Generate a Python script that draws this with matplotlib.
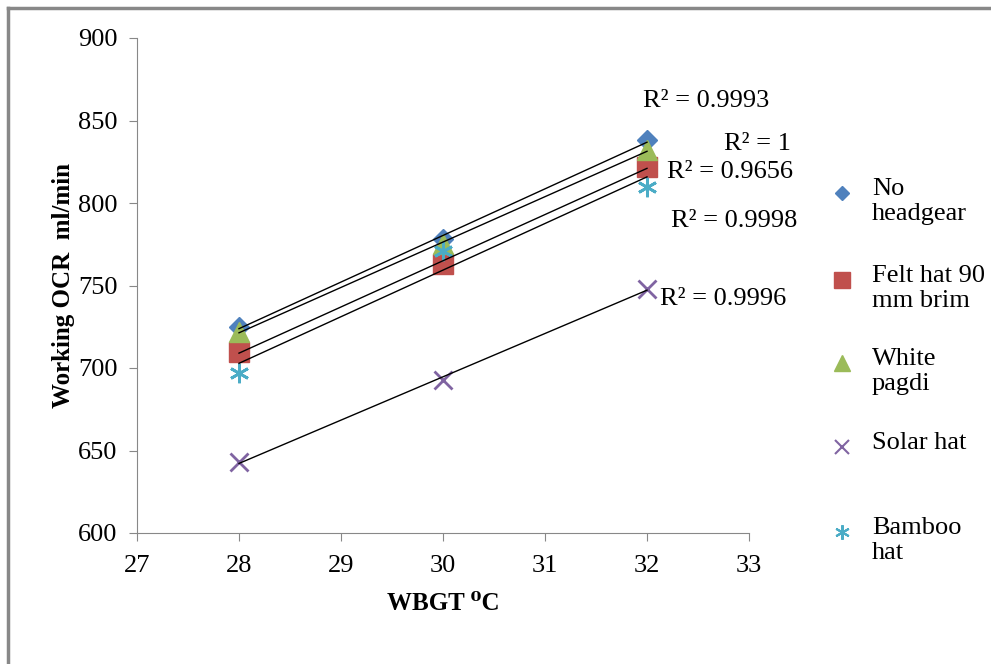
import numpy as np
import matplotlib
matplotlib.use("Agg")
import matplotlib.pyplot as plt
from matplotlib.lines import Line2D

plt.rcParams["font.family"] = ["Liberation Serif", "DejaVu Serif"]

wbgt = [28, 30, 32]
no_headgear = [725, 778, 838]
felt_hat = [710, 763, 822]
white_pagdi = [722, 775, 832]
solar_hat = [643, 693, 748]
bamboo_hat = [697, 771, 810]

labels = ["No\nheadgear", "Felt hat 90\nmm brim", "White\npagdi", "Solar hat", "Bamboo\nhat"]
colors = ["#4f81bd", "#c0504d", "#9bbb59", "#8064a2", "#4bacc6"]
markers = ["D", "s", "^", "x", (6, 2, 0)]
sizes = [10, 15, 15, 13, 14]

r2_texts = ["R\u00b2 = 0.9993", "R\u00b2 = 1", "R\u00b2 = 0.9656", "R\u00b2 = 0.9998", "R\u00b2 = 0.9996"]
r2_x = [32.58, 33.08, 32.81, 32.85, 32.75]
r2_y = [862, 836, 819, 789, 742]

series = [no_headgear, felt_hat, white_pagdi, solar_hat, bamboo_hat]
FS = 19

W, H = 991, 664
fig = plt.figure(figsize=(W / 100, H / 100), dpi=100)
ax = fig.add_axes([137 / W, 1 - 533 / H, (749 - 137) / W, (533 - 38) / H])

x = np.array(wbgt, dtype=float)
for ys, c, m, s in zip(series, colors, markers, sizes):
    mew = 2 if m == "x" or isinstance(m, tuple) else 1
    ax.plot(x, ys, linestyle="none", marker=m, color=c, markersize=s,
            markeredgewidth=mew, zorder=3)
    k, b = np.polyfit(x, ys, 1)
    ax.plot([28, 32], [k * 28 + b, k * 32 + b], color="black", lw=1, zorder=4)

for t, tx, ty in zip(r2_texts, r2_x, r2_y):
    ax.text(tx, ty, t, fontsize=FS, ha="center", va="center", clip_on=False)

ax.set_xlim(27, 33)
ax.set_ylim(600, 900)
ax.set_xticks(range(27, 34))
ax.set_yticks(range(600, 901, 50))
for sp in ["top", "right"]:
    ax.spines[sp].set_visible(False)
for sp in ["left", "bottom"]:
    ax.spines[sp].set_color("#888888")
ax.tick_params(colors="#888888", labelcolor="black", labelsize=FS, length=6,
               direction="out")
ax.tick_params(axis="y", pad=8)
ax.tick_params(axis="x", pad=10)
ax.set_xlabel("WBGT \u2070C", fontsize=18, fontweight="bold", labelpad=11)
ax.set_ylabel("Working OCR  ml/min", fontsize=18, fontweight="bold", labelpad=2)

# legend, drawn by hand to match the spreadsheet layout
leg_y = [193, 280, 363, 447, 532]
for lab, c, m, s, py in zip(labels, colors, markers, sizes, leg_y):
    mew = 1.5 if m == "x" or isinstance(m, tuple) else 1
    fig.add_artist(Line2D([842 / W], [1 - py / H], linestyle="none", marker=m,
                          color=c, markersize=s * 0.75, markeredgewidth=mew))
    fig.text(872 / W, 1 - (py - 15) / H, lab, fontsize=FS, ha="left", va="top",
             linespacing=1.15)

# outer chart border
fig.add_artist(Line2D([8 / W, 1], [1 - 8 / H, 1 - 8 / H], color="#888888", lw=2.5))
fig.add_artist(Line2D([8 / W, 8 / W], [0, 1 - 8 / H], color="#888888", lw=2.5))

fig.savefig("out.png", dpi=100)
